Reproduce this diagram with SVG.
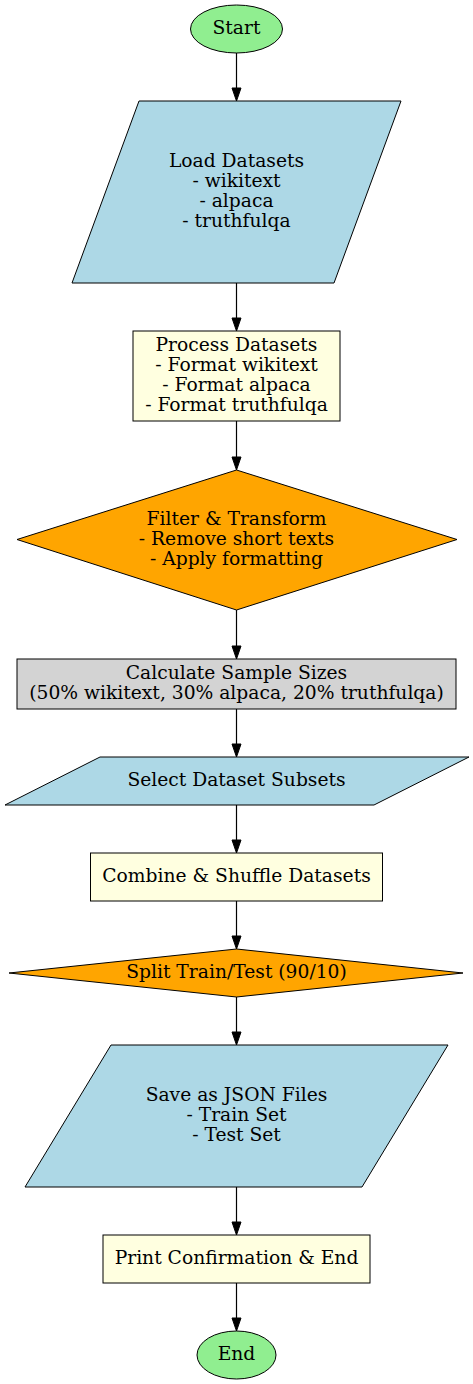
<svg xmlns="http://www.w3.org/2000/svg" width="473" height="1384" viewBox="0 0 473 1384">
<defs>
<style>
.n{stroke:#000;stroke-width:1}
.t{font-family:"DejaVu Serif","Liberation Serif",serif;font-size:18.7px;text-anchor:middle;fill:#000}
.e{stroke:#000;stroke-width:1.2;fill:none}
.h{fill:#000;stroke:#000;stroke-width:1}
</style>
</defs>
<rect width="473" height="1384" fill="#fff"/>
<g id="connectors">
<path class="e" d="M236.5 53V88"/><polygon class="h" points="232,88 236.5,101 241,88"/>
<path class="e" d="M236.5 283V318"/><polygon class="h" points="232,318 236.5,331 241,318"/>
<path class="e" d="M236.5 421V457"/><polygon class="h" points="232,457 236.5,470 241,457"/>
<path class="e" d="M236.5 610V646"/><polygon class="h" points="232,646 236.5,659 241,646"/>
<path class="e" d="M236.5 709V744"/><polygon class="h" points="232,744 236.5,757 241,744"/>
<path class="e" d="M236.5 805V840"/><polygon class="h" points="232,840 236.5,853 241,840"/>
<path class="e" d="M236.5 901V936"/><polygon class="h" points="232,936 236.5,949 241,936"/>
<path class="e" d="M236.5 997V1032"/><polygon class="h" points="232,1032 236.5,1045 241,1032"/>
<path class="e" d="M236.5 1187V1222"/><polygon class="h" points="232,1222 236.5,1235 241,1222"/>
<path class="e" d="M236.5 1283V1318"/><polygon class="h" points="232,1318 236.5,1331 241,1318"/>
</g>
<g id="start">
<ellipse class="n" cx="236.5" cy="29" rx="46" ry="24" fill="#90ee90"/>
<text class="t" x="236.5" y="34">Start</text>
</g>
<g id="load">
<polygon class="n" points="139,101 401,101 334,283 72,283" fill="#add8e6"/>
<text class="t" x="236.5" y="167">Load Datasets</text>
<text class="t" x="236.5" y="187">- wikitext</text>
<text class="t" x="236.5" y="207">- alpaca</text>
<text class="t" x="236.5" y="227">- truthfulqa</text>
</g>
<g id="process">
<rect class="n" x="133" y="331" width="207" height="90" fill="#ffffe0"/>
<text class="t" x="236.5" y="351">Process Datasets</text>
<text class="t" x="236.5" y="371">- Format wikitext</text>
<text class="t" x="236.5" y="391">- Format alpaca</text>
<text class="t" x="236.5" y="411">- Format truthfulqa</text>
</g>
<g id="filter">
<polygon class="n" points="236.5,470 457,539.5 236.5,610 17,539.5" fill="#ffa500"/>
<text class="t" x="236.5" y="525">Filter &amp; Transform</text>
<text class="t" x="236.5" y="545">- Remove short texts</text>
<text class="t" x="236.5" y="565">- Apply formatting</text>
</g>
<g id="calc">
<rect class="n" x="17" y="659" width="439" height="50" fill="#d3d3d3"/>
<text class="t" x="236.5" y="679">Calculate Sample Sizes</text>
<text class="t" x="236.5" y="699">(50% wikitext, 30% alpaca, 20% truthfulqa)</text>
</g>
<g id="select">
<polygon class="n" points="100,757 469,757 374,805 5,805" fill="#add8e6"/>
<text class="t" x="236.5" y="786">Select Dataset Subsets</text>
</g>
<g id="combine">
<rect class="n" x="90.5" y="853" width="292" height="48" fill="#ffffe0"/>
<text class="t" x="236.5" y="882">Combine &amp; Shuffle Datasets</text>
</g>
<g id="split">
<polygon class="n" points="236.5,949 463,973 236.5,997 9,973" fill="#ffa500"/>
<text class="t" x="236.5" y="978">Split Train/Test (90/10)</text>
</g>
<g id="save">
<polygon class="n" points="111,1045 448,1045 362,1187 25,1187" fill="#add8e6"/>
<text class="t" x="236.5" y="1101">Save as JSON Files</text>
<text class="t" x="236.5" y="1121">- Train Set</text>
<text class="t" x="236.5" y="1141">- Test Set</text>
</g>
<g id="print">
<rect class="n" x="103" y="1235" width="267" height="48" fill="#ffffe0"/>
<text class="t" x="236.5" y="1264">Print Confirmation &amp; End</text>
</g>
<g id="end">
<ellipse class="n" cx="236.5" cy="1355" rx="39.5" ry="24" fill="#90ee90"/>
<text class="t" x="236.5" y="1360">End</text>
</g>
</svg>
